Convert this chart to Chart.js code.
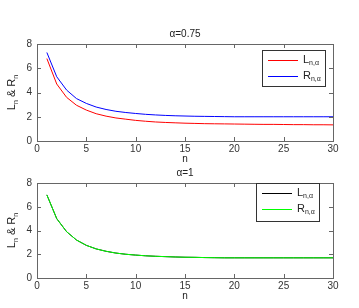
<!DOCTYPE html>
<html>
<head>
<meta charset="utf-8">
<script src="https://cdn.jsdelivr.net/npm/chart.js@4.4.0/dist/chart.umd.min.js"></script>
<style>
  body { margin: 0; background: #fff; }
  #wrap { position: relative; width: 359px; height: 308px; }
  .box { position: absolute; left: 0; width: 359px; }
</style>
</head>
<body>
<div id="wrap">
  <div class="box" style="top:0;height:165px"><canvas id="top"></canvas></div>
  <div class="box" style="top:165px;height:143px"><canvas id="bottom"></canvas></div>
</div>
<script>
// ---------------- data ----------------
const nValues = [1,2,3,4,5,6,7,8,9,10,11,12,13,14,15,16,17,18,19,20,21,22,23,24,25,26,27,28,29,30];

// alpha = 0.75
const lAlpha075 = [6.8,4.7,3.6,2.95,2.55,2.25,2.05,1.9,1.8,1.7,1.63,1.57,1.53,1.5,1.47,1.45,1.43,1.42,1.41,1.4,1.39,1.38,1.37,1.37,1.36,1.35,1.35,1.34,1.34,1.33];
const rAlpha075 = [7.3,5.3,4.2,3.5,3.1,2.8,2.6,2.45,2.35,2.27,2.2,2.15,2.11,2.08,2.06,2.04,2.03,2.02,2.01,2.0,2.0,2.0,2.0,2.0,2.0,2.0,2.0,2.0,2.0,2.0];

// alpha = 1 (L and R coincide)
const lAlpha1 = [7.0,5.0,3.9,3.2,2.75,2.45,2.25,2.1,2.0,1.93,1.87,1.83,1.8,1.77,1.75,1.74,1.72,1.71,1.7,1.7,1.7,1.7,1.7,1.7,1.7,1.7,1.7,1.7,1.7,1.7];
const rAlpha1 = [7.0,5.0,3.9,3.2,2.75,2.45,2.25,2.1,2.0,1.93,1.87,1.83,1.8,1.77,1.75,1.74,1.72,1.71,1.7,1.7,1.7,1.7,1.7,1.7,1.7,1.7,1.7,1.7,1.7,1.7];

const xTicks = [0,5,10,15,20,25,30];
const yTicks = [0,2,4,6,8];

const FONT = '"Liberation Sans", Arial, sans-serif';

function toPoints(vals) {
  return vals.map((v, i) => ({ x: nValues[i], y: v }));
}

// 본문 + 아래첨자 글자 그리기
function drawSub(ctx, x, y, main, sub, size) {
  ctx.font = size + 'px ' + FONT;
  ctx.fillText(main, x, y);
  let w = ctx.measureText(main).width;
  ctx.font = Math.round(size * 0.65) + 'px ' + FONT;
  ctx.fillText(sub, x + w, y + size * 0.35);
  return w + ctx.measureText(sub).width;
}

// MATLAB 풍 축 상자, 안쪽 눈금, 눈금 글자, 제목, 범례
const framePlugin = {
  id: 'frame',
  afterDraw(chart, args, opts) {
    const ctx = chart.ctx;
    const a = chart.chartArea;
    const xs = chart.scales.x, ys = chart.scales.y;
    ctx.save();
    ctx.strokeStyle = '#666';
    ctx.lineWidth = 1;
    ctx.strokeRect(Math.round(a.left) + 0.5, Math.round(a.top) + 0.5,
                   Math.round(a.right - a.left), Math.round(a.bottom - a.top));
    ctx.beginPath();
    xTicks.forEach(t => {
      let px = Math.round(xs.getPixelForValue(t)) + 0.5;
      ctx.moveTo(px, a.bottom); ctx.lineTo(px, a.bottom - 4);
      ctx.moveTo(px, a.top); ctx.lineTo(px, a.top + 4);
    });
    yTicks.forEach(t => {
      let py = Math.round(ys.getPixelForValue(t)) + 0.5;
      ctx.moveTo(a.left, py); ctx.lineTo(a.left + 4, py);
      ctx.moveTo(a.right, py); ctx.lineTo(a.right - 4, py);
    });
    ctx.stroke();

    // 눈금 글자
    ctx.fillStyle = '#333';
    ctx.font = '10px ' + FONT;
    ctx.textAlign = 'center';
    ctx.textBaseline = 'middle';
    xTicks.forEach(t => {
      ctx.fillText(String(t), xs.getPixelForValue(t), a.bottom + 8);
    });
    ctx.textAlign = 'right';
    yTicks.forEach(t => {
      ctx.fillText(String(t), a.left - 5, ys.getPixelForValue(t));
    });

    // 제목
    ctx.fillStyle = '#222';
    ctx.textAlign = 'center';
    ctx.fillText(opts.title, (a.left + a.right) / 2, a.top - 10);
    // x축 이름
    ctx.fillText('n', (a.left + a.right) / 2, a.bottom + 18);

    // y축 이름 (회전)
    ctx.save();
    ctx.translate(12, (a.top + a.bottom) / 2);
    ctx.rotate(-Math.PI / 2);
    ctx.textAlign = 'left';
    let total = 0;
    ctx.font = '11px ' + FONT;
    total += ctx.measureText('L').width + ctx.measureText(' & ').width + ctx.measureText('R').width;
    ctx.font = '7px ' + FONT;
    total += ctx.measureText('n').width * 2;
    let x = -total / 2;
    x += drawSub(ctx, x, 0, 'L', 'n', 11);
    ctx.font = '11px ' + FONT;
    ctx.fillText(' & ', x, 0);
    x += ctx.measureText(' & ').width;
    drawSub(ctx, x, 0, 'R', 'n', 11);
    ctx.restore();

    // 범례
    const lg = opts.legend;
    ctx.fillStyle = '#fff';
    ctx.fillRect(lg.x, lg.y, lg.w, lg.h);
    ctx.strokeStyle = '#333';
    ctx.strokeRect(lg.x + 0.5, lg.y + 0.5, lg.w, lg.h);
    chart.data.datasets.forEach((ds, i) => {
      let ly = lg.y + 10 + i * 16 + 0.5;
      ctx.strokeStyle = ds.borderColor;
      ctx.beginPath();
      ctx.moveTo(lg.x + 6, ly); ctx.lineTo(lg.x + 36, ly);
      ctx.stroke();
      ctx.fillStyle = '#222';
      ctx.textAlign = 'left';
      ctx.textBaseline = 'middle';
      drawSub(ctx, lg.x + 41, ly - 1, ds.label, 'n,α', 11);
    });
    ctx.restore();
  }
};

function makeChart(id, lVals, rVals, lColor, rColor, title, pad, legend) {
  return new Chart(document.getElementById(id), {
    type: 'line',
    data: {
      datasets: [
        { label: 'L', data: toPoints(lVals), borderColor: lColor, borderWidth: 1, pointRadius: 0, tension: 0, order: 1 },
        { label: 'R', data: toPoints(rVals), borderColor: rColor, borderWidth: 1, pointRadius: 0, tension: 0, order: 0 }
      ]
    },
    options: {
      responsive: true,
      maintainAspectRatio: false,
      animation: false,
      layout: { padding: pad },
      plugins: {
        legend: { display: false },
        tooltip: { enabled: false },
        frame: { title: title, legend: legend }
      },
      scales: {
        x: {
          type: 'linear', min: 0, max: 30,
          afterFit: s => { s.height = 0; },
          grid: { display: false }, border: { display: false },
          ticks: { display: false, stepSize: 5 }
        },
        y: {
          min: 0, max: 8,
          afterFit: s => { s.width = 0; },
          grid: { display: false }, border: { display: false },
          ticks: { display: false, stepSize: 2 }
        }
      }
    },
    plugins: [framePlugin]
  });
}

makeChart('top', lAlpha075, rAlpha075, '#ff0000', '#0000ff', 'α=0.75',
  { left: 37, right: 26, top: 44, bottom: 24 },
  { x: 262, y: 50, w: 63, h: 36 });

makeChart('bottom', lAlpha1, rAlpha1, '#000000', '#00ff00', 'α=1',
  { left: 37, right: 26, top: 18, bottom: 30 },
  { x: 256, y: 18, w: 63, h: 38 });
</script>
</body>
</html>
